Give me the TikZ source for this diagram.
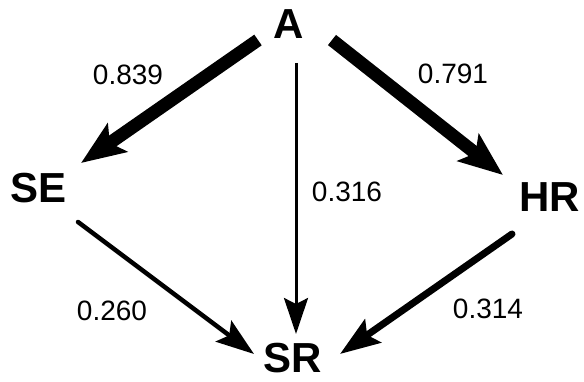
\documentclass[tikz,border=0pt]{standalone}
\usepackage{fontspec}
\setmainfont{Liberation Sans}
\usetikzlibrary{arrows.meta}
\begin{document}
\begin{tikzpicture}[x=1pt,y=-1pt,
  lbl/.style={font=\bfseries\fontsize{42}{42}\selectfont, inner sep=0pt, anchor=base},
  num/.style={font=\fontsize{28}{28}\selectfont, inner sep=0pt, anchor=base},
  heavy/.style={line width=13pt, -{Stealth[length=44pt,width=34pt,inset=9pt]}},
  medium/.style={line width=7pt, line cap=round, -{Stealth[length=40pt,width=28pt,inset=7pt]}},
  lightarr/.style={line width=4.5pt, line cap=round, -{Stealth[length=38pt,width=26pt,inset=7pt]}},
  thin/.style={line width=3pt, -{Stealth[length=36pt,width=24pt,inset=6pt]}}]
\useasboundingbox (0,0) rectangle (584,382);
% nodes
\node[lbl] (A)  at (289,39)  {A};
\node[lbl] (SE) at (39,203)  {SE};
\node[lbl] (HR) at (550,212) {HR};
\node[lbl] (SR) at (293,372) {SR};
% connector ends
\coordinate (A-se) at (258,40);
\coordinate (SE-in) at (81,163);
\coordinate (A-hr) at (332,40);
\coordinate (HR-in) at (503,175);
\coordinate (A-sr) at (296,63);
\coordinate (SR-top) at (296,334);
\coordinate (SE-out) at (78,222);
\coordinate (SR-left) at (254,354);
\coordinate (HR-out) at (512,234);
\coordinate (SR-right) at (340,354);
% connectors
\draw[heavy] (A-se) -- (SE-in);
\draw[heavy] (A-hr) -- (HR-in);
\draw[thin] (A-sr) -- (SR-top);
\draw[lightarr] (SE-out) -- (SR-left);
\draw[medium] (HR-out) -- (SR-right);
% labels
\node[num] (l1) at (128,85)  {0.839};
\node[num] (l2) at (453,84)  {0.791};
\node[num] (l3) at (347,202) {0.316};
\node[num] (l4) at (112,320) {0.260};
\node[num] (l5) at (488,318) {0.314};
\end{tikzpicture}
\end{document}
